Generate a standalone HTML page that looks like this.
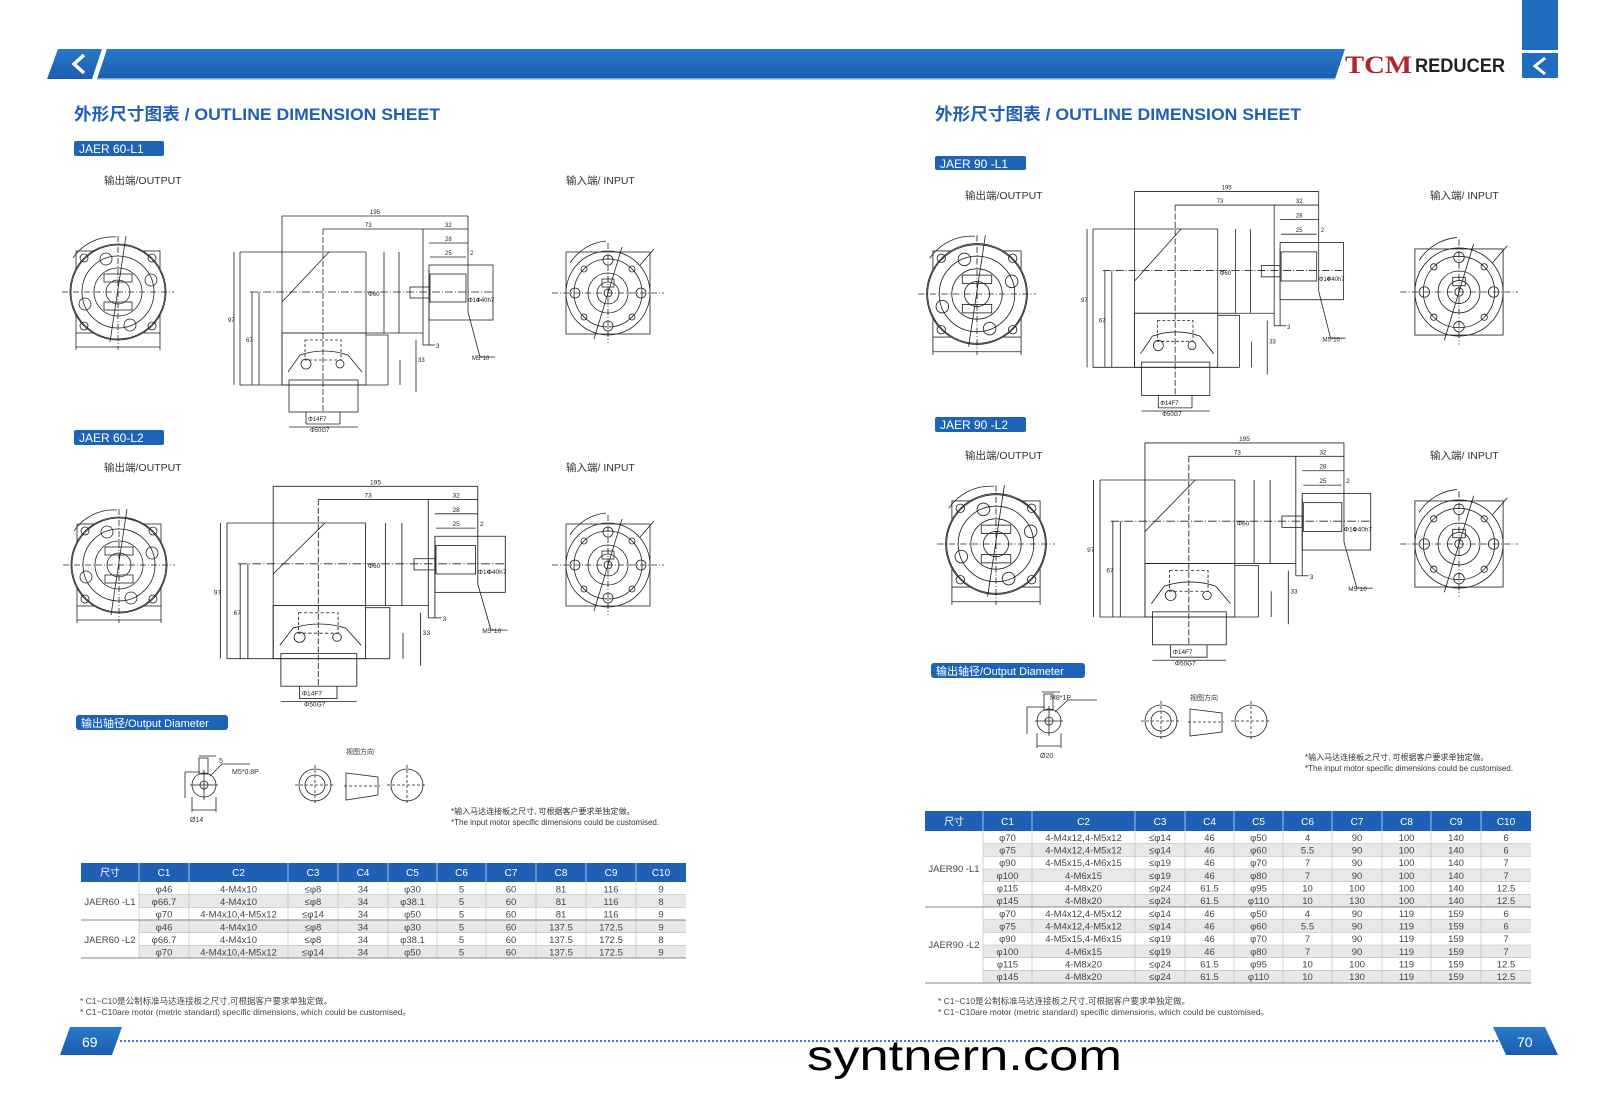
<!DOCTYPE html>
<html><head><meta charset="utf-8"><style>
html,body{margin:0;padding:0;background:#fff;}
svg{display:block;}
text{font-family:"Liberation Sans","Noto Sans CJK SC",sans-serif;}
</style></head><body>
<svg width="1611" height="1100" viewBox="0 0 1611 1100" xmlns="http://www.w3.org/2000/svg">
<defs>
<linearGradient id="bg" x1="0" y1="0" x2="0" y2="1"><stop offset="0" stop-color="#2a78c8"/><stop offset="1" stop-color="#1a5db0"/></linearGradient>
<g id="outv" fill="none" stroke="#222" stroke-width="0.8">
<rect x="-42" y="-41" width="84" height="82"/>
<circle r="48" fill="#fff"/>
<circle r="47"/><circle r="36"/><circle r="24"/><circle r="12"/>
<line x1="-56" y1="0" x2="56" y2="0" stroke-dasharray="6 2 1 2"/>
<line x1="0" y1="-56" x2="0" y2="58" stroke-dasharray="6 2 1 2"/>
<circle cx="-34" cy="-34" r="4"/><circle cx="34" cy="-34" r="4"/><circle cx="-34" cy="34" r="4"/><circle cx="34" cy="34" r="4"/>
<circle cx="-12" cy="-33" r="6"/><circle cx="33" cy="-12" r="6"/><circle cx="-33" cy="12" r="6"/><circle cx="12" cy="33" r="6"/>
<rect x="-14" y="-18" width="28" height="8"/><rect x="-14" y="10" width="28" height="8"/>
<path d="M-45 -34 A48 48 0 0 1 -2 -55"/>
<line x1="-42" y1="41" x2="-42" y2="58"/><line x1="42" y1="41" x2="42" y2="58"/>
<line x1="-42" y1="55" x2="42" y2="55"/>
<line x1="8" y1="-56" x2="-8" y2="50"/>
</g>
<g id="inv" fill="none" stroke="#222" stroke-width="0.8">
<rect x="-42" y="-41" width="84" height="82"/>
<circle r="42"/><circle r="34"/><circle r="20"/><circle r="11"/><circle r="4"/>
<line x1="-56" y1="0" x2="56" y2="0" stroke-dasharray="6 2 1 2"/>
<line x1="0" y1="-50" x2="0" y2="50" stroke-dasharray="6 2 1 2"/>
<circle cx="0" cy="-33" r="5"/><circle cx="0" cy="33" r="5"/><circle cx="-33" cy="0" r="5"/><circle cx="33" cy="0" r="5"/>
<circle cx="-24" cy="-24" r="3"/><circle cx="24" cy="-24" r="3"/><circle cx="-24" cy="24" r="3"/><circle cx="24" cy="24" r="3"/>
<rect x="-6" y="-14" width="12" height="8"/>
<path d="M-38 -30 A48 48 0 0 1 -2 -52"/>
<line x1="14" y1="-46" x2="-14" y2="46"/>
<line x1="32" y1="-28" x2="46" y2="-44"/>
</g>
<g id="side" fill="none" stroke="#222" stroke-width="0.8">
<path d="M0 0V133H148M0 0H126"/>
<path d="M19 40V133M42 -36V133"/>
<path d="M42 50L89 0"/>
<path d="M83 -23V160" stroke-dasharray="6 2"/>
<path d="M126 0V81M144 0V81M159 0V81M183 -23V93M189 18V93M42 81H183"/>
<rect x="42" y="81" width="84" height="52"/>
<path d="M126 83H148V133"/>
<rect x="49" y="128" width="69" height="32"/>
<rect x="65" y="88" width="36" height="20" stroke-dasharray="3 2"/>
<path d="M48 120L60 103Q84 95 108 103L122 120"/>
<circle cx="66" cy="112" r="5"/><circle cx="100" cy="112" r="4"/>
<rect x="189" y="13" width="64" height="55"/>
<rect x="190" y="22" width="36" height="28"/>
<rect x="170" y="35" width="19" height="11"/>
<path d="M10 40H253" stroke-dasharray="8 2 1 2"/>
<path d="M42 -36H228M83 -23H228M228 -36V60M189 -9H228M190 5H226M-6 0V133M12 40V133M160 108V133M176 88V140"/>
<path d="M228 60L240 105H255"/>
<path d="M183 93H195"/>
<path d="M66 160V172H100V160M49 175H118"/>
<g fill="#222" stroke="none" font-size="6">
<text x="130" y="-38">195</text><text x="125" y="-25">73</text><text x="205" y="-25">32</text><text x="205" y="-11">28</text><text x="205" y="3">25</text><text x="230" y="3">2</text>
<text x="232" y="108">M5*10</text><text x="196" y="96">3</text><text x="-12" y="70">97</text><text x="6" y="90">67</text><text x="178" y="110">33</text>
<text x="68" y="169">Φ14F7</text><text x="70" y="180">Φ50G7</text><text x="236" y="50">Φ40h7</text><text x="228" y="50">Φ14</text><text x="128" y="44">Φ60</text>
</g>
</g>
</defs>

<polygon points="47,79 58,49 102,49 92,79" fill="url(#bg)"/>
<polyline points="84,55 74,64 84,73" fill="none" stroke="#fff" stroke-width="3.5"/>
<polygon points="97,79 107,49 1345,49 1335,79" fill="url(#bg)"/>
<line x1="97" y1="79" x2="1335" y2="79" stroke="#9cc4ec" stroke-width="1.5"/>
<text x="1345" y="73" style="font-family:'Liberation Serif',serif" font-size="25" font-weight="bold" fill="#b0252a" textLength="67" lengthAdjust="spacingAndGlyphs">TCM</text>
<text x="1415" y="72" font-size="19" font-weight="bold" fill="#222" textLength="90" lengthAdjust="spacingAndGlyphs">REDUCER</text>
<rect x="1522" y="0" width="36" height="50" fill="#1f6cc0"/>
<rect x="1522" y="53" width="36" height="25" fill="#1f6cc0"/>
<polyline points="1545,58 1535,66 1545,74" fill="none" stroke="#fff" stroke-width="3"/>

<text x="74" y="120" font-size="17" font-weight="bold" fill="#1f5fb8" textLength="366" lengthAdjust="spacingAndGlyphs">外形尺寸图表 / OUTLINE DIMENSION SHEET</text>
<text x="935" y="120" font-size="17" font-weight="bold" fill="#1f5fb8" textLength="366" lengthAdjust="spacingAndGlyphs">外形尺寸图表 / OUTLINE DIMENSION SHEET</text>

<g fill="#1f63b8"><rect x="74" y="141" width="90" height="15" rx="2"/><rect x="74" y="430" width="90" height="15" rx="2"/><rect x="935" y="156" width="91" height="14" rx="2"/><rect x="935" y="417" width="91" height="15" rx="2"/>
<rect x="76" y="715" width="152" height="15" rx="3"/><rect x="931" y="663" width="154" height="15" rx="3"/></g>
<g fill="#fff" font-size="12"><text x="79" y="153">JAER  60-L1</text><text x="79" y="442">JAER  60-L2</text><text x="940" y="168">JAER  90 -L1</text><text x="940" y="429">JAER 90 -L2</text>
<text x="81" y="727" font-size="11">输出轴径/Output Diameter</text><text x="936" y="675" font-size="11">输出轴径/Output Diameter</text></g>

<g fill="#333" font-size="10.5">
<text x="104" y="184">输出端/OUTPUT</text><text x="566" y="184">输入端/ INPUT</text>
<text x="104" y="471">输出端/OUTPUT</text><text x="566" y="471">输入端/ INPUT</text>
<text x="965" y="199">输出端/OUTPUT</text><text x="1430" y="199">输入端/ INPUT</text>
<text x="965" y="459">输出端/OUTPUT</text><text x="1430" y="459">输入端/ INPUT</text>
</g>

<use href="#outv" transform="translate(118,292)"/>
<use href="#inv" transform="translate(608,293)"/>
<use href="#side" transform="translate(240,252)"/>
<use href="#outv" transform="translate(119,565)"/>
<use href="#inv" transform="translate(608,565)"/>
<use href="#side" transform="translate(227,523) scale(1.1,1.02)"/>
<use href="#outv" transform="translate(977,294) scale(1.05)"/>
<use href="#inv" transform="translate(1459,292) scale(1.05)"/>
<use href="#side" transform="translate(1093,229) scale(0.99,1.04)"/>
<use href="#outv" transform="translate(996,544) scale(1.05)"/>
<use href="#inv" transform="translate(1459,544) scale(1.05)"/>
<use href="#side" transform="translate(1100,480) scale(1.07,1.03)"/>

<g fill="none" stroke="#222" stroke-width="0.8">
<circle cx="204" cy="785" r="12"/><circle cx="204" cy="785" r="4"/><rect x="199" y="758" width="9" height="16"/>
<path d="M190 785H218M204 770V800M185 772V798M185 772H200M199 756H216M210 776L222 764H250M192 797V812M216 797V812M192 810H216"/>
<circle cx="315" cy="785" r="16"/><circle cx="315" cy="785" r="10"/><path d="M295 785H335M315 765V805" stroke-dasharray="3 2"/>
<path d="M346 773L378 777V795L346 800Z"/><path d="M344 786H380" stroke-dasharray="3 2"/>
<circle cx="407" cy="785" r="16"/><path d="M387 785H427M407 765V805" stroke-dasharray="3 2"/>
<circle cx="1049" cy="721" r="12"/><circle cx="1049" cy="721" r="4"/><rect x="1044" y="694" width="9" height="16"/>
<path d="M1035 721H1063M1049 706V736M1027 707V734M1027 707H1045M1042 692H1060M1055 712L1068 700H1097M1037 733V748M1061 733V748M1037 746H1061"/>
<circle cx="1161" cy="721" r="16"/><circle cx="1161" cy="721" r="10"/><path d="M1141 721H1181M1161 701V741" stroke-dasharray="3 2"/>
<path d="M1190 709L1222 713V732L1190 736Z"/><path d="M1188 722H1224" stroke-dasharray="3 2"/>
<circle cx="1251" cy="721" r="16"/><path d="M1231 721H1271M1251 701V741" stroke-dasharray="3 2"/>
</g>
<g fill="#333" font-size="7"><text x="219" y="763">5</text><text x="232" y="774">M5*0.8P</text><text x="190" y="822">Ø14</text>
<text x="346" y="754">视图方向</text><text x="1050" y="700">M8*1P</text><text x="1040" y="758">Ø20</text><text x="1190" y="700">视图方向</text>
<text x="451" y="814" font-size="8">*输入马达连接板之尺寸, 可根据客户要求单独定做。</text><text x="451" y="825" font-size="8">*The input motor specific dimensions could be customised.</text>
<text x="1305" y="760" font-size="8">*输入马达连接板之尺寸, 可根据客户要求单独定做。</text><text x="1305" y="771" font-size="8">*The input motor specific dimensions could be customised.</text></g>

<rect x="81" y="863" width="605" height="19" fill="#1f5fb5"/>
<g fill="#e8e8e8"><rect x="139" y="894.7" width="547" height="12.7"/><rect x="139" y="920" width="547" height="12.7"/><rect x="139" y="945.3" width="547" height="12.7"/></g>
<g stroke="#bbb" stroke-width="0.6"><path d="M139 894.7H686M139 907.3H686M139 920H686M139 932.7H686M139 945.3H686"/>
<path d="M139 882V958M189 882V958M288 882V958M338 882V958M388 882V958M437 882V958M486 882V958M536 882V958M586 882V958M636 882V958"/></g>
<path d="M81 920H686M81 958H686" stroke="#666" stroke-width="0.8"/>
<g stroke="#9cc0ea" stroke-width="1"><path d="M139 863V882M189 863V882M288 863V882M338 863V882M388 863V882M437 863V882M486 863V882M536 863V882M586 863V882M636 863V882"/></g>
<g fill="#fff" font-size="10" text-anchor="middle"><text x="110" y="876">尺寸</text><text x="164" y="876">C1</text><text x="238.5" y="876">C2</text><text x="313" y="876">C3</text><text x="363" y="876">C4</text><text x="412.5" y="876">C5</text><text x="461.5" y="876">C6</text><text x="511" y="876">C7</text><text x="561" y="876">C8</text><text x="611" y="876">C9</text><text x="661" y="876">C10</text></g>
<g fill="#444" font-size="9.5" text-anchor="middle">
<text x="110" y="905">JAER60 -L1</text><text x="110" y="943">JAER60 -L2</text>
<text x="164" y="892.3">φ46</text><text x="238.5" y="892.3">4-M4x10</text><text x="313" y="892.3">≤φ8</text><text x="363" y="892.3">34</text><text x="412.5" y="892.3">φ30</text><text x="461.5" y="892.3">5</text><text x="511" y="892.3">60</text><text x="561" y="892.3">81</text><text x="611" y="892.3">116</text><text x="661" y="892.3">9</text>
<text x="164" y="905">φ66.7</text><text x="238.5" y="905">4-M4x10</text><text x="313" y="905">≤φ8</text><text x="363" y="905">34</text><text x="412.5" y="905">φ38.1</text><text x="461.5" y="905">5</text><text x="511" y="905">60</text><text x="561" y="905">81</text><text x="611" y="905">116</text><text x="661" y="905">8</text>
<text x="164" y="917.7">φ70</text><text x="238.5" y="917.7">4-M4x10,4-M5x12</text><text x="313" y="917.7">≤φ14</text><text x="363" y="917.7">34</text><text x="412.5" y="917.7">φ50</text><text x="461.5" y="917.7">5</text><text x="511" y="917.7">60</text><text x="561" y="917.7">81</text><text x="611" y="917.7">116</text><text x="661" y="917.7">9</text>
<text x="164" y="930.3">φ46</text><text x="238.5" y="930.3">4-M4x10</text><text x="313" y="930.3">≤φ8</text><text x="363" y="930.3">34</text><text x="412.5" y="930.3">φ30</text><text x="461.5" y="930.3">5</text><text x="511" y="930.3">60</text><text x="561" y="930.3">137.5</text><text x="611" y="930.3">172.5</text><text x="661" y="930.3">9</text>
<text x="164" y="943">φ66.7</text><text x="238.5" y="943">4-M4x10</text><text x="313" y="943">≤φ8</text><text x="363" y="943">34</text><text x="412.5" y="943">φ38.1</text><text x="461.5" y="943">5</text><text x="511" y="943">60</text><text x="561" y="943">137.5</text><text x="611" y="943">172.5</text><text x="661" y="943">8</text>
<text x="164" y="955.7">φ70</text><text x="238.5" y="955.7">4-M4x10,4-M5x12</text><text x="313" y="955.7">≤φ14</text><text x="363" y="955.7">34</text><text x="412.5" y="955.7">φ50</text><text x="461.5" y="955.7">5</text><text x="511" y="955.7">60</text><text x="561" y="955.7">137.5</text><text x="611" y="955.7">172.5</text><text x="661" y="955.7">9</text>
</g>

<rect x="925" y="811" width="606" height="20" fill="#1f5fb5"/>
<g fill="#e8e8e8"><rect x="983" y="843.7" width="548" height="12.7"/><rect x="983" y="869" width="548" height="12.7"/><rect x="983" y="894.3" width="548" height="12.7"/><rect x="983" y="919.7" width="548" height="12.7"/><rect x="983" y="945" width="548" height="12.7"/><rect x="983" y="970.3" width="548" height="12.7"/></g>
<g stroke="#bbb" stroke-width="0.6"><path d="M983 843.7H1531M983 856.3H1531M983 869H1531M983 881.7H1531M983 894.3H1531M983 919.7H1531M983 932.3H1531M983 945H1531M983 957.7H1531M983 970.3H1531"/>
<path d="M983 831V983M1032 831V983M1135 831V983M1185 831V983M1234 831V983M1283 831V983M1332 831V983M1382 831V983M1431 831V983M1481 831V983"/></g>
<path d="M925 907H1531M925 983H1531" stroke="#666" stroke-width="0.8"/>
<g stroke="#9cc0ea" stroke-width="1"><path d="M983 811V831M1032 811V831M1135 811V831M1185 811V831M1234 811V831M1283 811V831M1332 811V831M1382 811V831M1431 811V831M1481 811V831"/></g>
<g fill="#fff" font-size="10" text-anchor="middle"><text x="954" y="825">尺寸</text><text x="1007.5" y="825">C1</text><text x="1083.5" y="825">C2</text><text x="1160" y="825">C3</text><text x="1209.5" y="825">C4</text><text x="1258.5" y="825">C5</text><text x="1307.5" y="825">C6</text><text x="1357" y="825">C7</text><text x="1406.5" y="825">C8</text><text x="1456" y="825">C9</text><text x="1506" y="825">C10</text></g>
<g fill="#444" font-size="9.5" text-anchor="middle">
<text x="954" y="872">JAER90 -L1</text><text x="954" y="948">JAER90 -L2</text>
<text x="1007.5" y="840.8">φ70</text><text x="1083.5" y="840.8">4-M4x12,4-M5x12</text><text x="1160" y="840.8">≤φ14</text><text x="1209.5" y="840.8">46</text><text x="1258.5" y="840.8">φ50</text><text x="1307.5" y="840.8">4</text><text x="1357" y="840.8">90</text><text x="1406.5" y="840.8">100</text><text x="1456" y="840.8">140</text><text x="1506" y="840.8">6</text>
<text x="1007.5" y="853.5">φ75</text><text x="1083.5" y="853.5">4-M4x12,4-M5x12</text><text x="1160" y="853.5">≤φ14</text><text x="1209.5" y="853.5">46</text><text x="1258.5" y="853.5">φ60</text><text x="1307.5" y="853.5">5.5</text><text x="1357" y="853.5">90</text><text x="1406.5" y="853.5">100</text><text x="1456" y="853.5">140</text><text x="1506" y="853.5">6</text>
<text x="1007.5" y="866.2">φ90</text><text x="1083.5" y="866.2">4-M5x15,4-M6x15</text><text x="1160" y="866.2">≤φ19</text><text x="1209.5" y="866.2">46</text><text x="1258.5" y="866.2">φ70</text><text x="1307.5" y="866.2">7</text><text x="1357" y="866.2">90</text><text x="1406.5" y="866.2">100</text><text x="1456" y="866.2">140</text><text x="1506" y="866.2">7</text>
<text x="1007.5" y="878.8">φ100</text><text x="1083.5" y="878.8">4-M6x15</text><text x="1160" y="878.8">≤φ19</text><text x="1209.5" y="878.8">46</text><text x="1258.5" y="878.8">φ80</text><text x="1307.5" y="878.8">7</text><text x="1357" y="878.8">90</text><text x="1406.5" y="878.8">100</text><text x="1456" y="878.8">140</text><text x="1506" y="878.8">7</text>
<text x="1007.5" y="891.5">φ115</text><text x="1083.5" y="891.5">4-M8x20</text><text x="1160" y="891.5">≤φ24</text><text x="1209.5" y="891.5">61.5</text><text x="1258.5" y="891.5">φ95</text><text x="1307.5" y="891.5">10</text><text x="1357" y="891.5">100</text><text x="1406.5" y="891.5">100</text><text x="1456" y="891.5">140</text><text x="1506" y="891.5">12.5</text>
<text x="1007.5" y="904.2">φ145</text><text x="1083.5" y="904.2">4-M8x20</text><text x="1160" y="904.2">≤φ24</text><text x="1209.5" y="904.2">61.5</text><text x="1258.5" y="904.2">φ110</text><text x="1307.5" y="904.2">10</text><text x="1357" y="904.2">130</text><text x="1406.5" y="904.2">100</text><text x="1456" y="904.2">140</text><text x="1506" y="904.2">12.5</text>
<text x="1007.5" y="916.8">φ70</text><text x="1083.5" y="916.8">4-M4x12,4-M5x12</text><text x="1160" y="916.8">≤φ14</text><text x="1209.5" y="916.8">46</text><text x="1258.5" y="916.8">φ50</text><text x="1307.5" y="916.8">4</text><text x="1357" y="916.8">90</text><text x="1406.5" y="916.8">119</text><text x="1456" y="916.8">159</text><text x="1506" y="916.8">6</text>
<text x="1007.5" y="929.5">φ75</text><text x="1083.5" y="929.5">4-M4x12,4-M5x12</text><text x="1160" y="929.5">≤φ14</text><text x="1209.5" y="929.5">46</text><text x="1258.5" y="929.5">φ60</text><text x="1307.5" y="929.5">5.5</text><text x="1357" y="929.5">90</text><text x="1406.5" y="929.5">119</text><text x="1456" y="929.5">159</text><text x="1506" y="929.5">6</text>
<text x="1007.5" y="942.2">φ90</text><text x="1083.5" y="942.2">4-M5x15,4-M6x15</text><text x="1160" y="942.2">≤φ19</text><text x="1209.5" y="942.2">46</text><text x="1258.5" y="942.2">φ70</text><text x="1307.5" y="942.2">7</text><text x="1357" y="942.2">90</text><text x="1406.5" y="942.2">119</text><text x="1456" y="942.2">159</text><text x="1506" y="942.2">7</text>
<text x="1007.5" y="954.8">φ100</text><text x="1083.5" y="954.8">4-M6x15</text><text x="1160" y="954.8">≤φ19</text><text x="1209.5" y="954.8">46</text><text x="1258.5" y="954.8">φ80</text><text x="1307.5" y="954.8">7</text><text x="1357" y="954.8">90</text><text x="1406.5" y="954.8">119</text><text x="1456" y="954.8">159</text><text x="1506" y="954.8">7</text>
<text x="1007.5" y="967.5">φ115</text><text x="1083.5" y="967.5">4-M8x20</text><text x="1160" y="967.5">≤φ24</text><text x="1209.5" y="967.5">61.5</text><text x="1258.5" y="967.5">φ95</text><text x="1307.5" y="967.5">10</text><text x="1357" y="967.5">100</text><text x="1406.5" y="967.5">119</text><text x="1456" y="967.5">159</text><text x="1506" y="967.5">12.5</text>
<text x="1007.5" y="980.2">φ145</text><text x="1083.5" y="980.2">4-M8x20</text><text x="1160" y="980.2">≤φ24</text><text x="1209.5" y="980.2">61.5</text><text x="1258.5" y="980.2">φ110</text><text x="1307.5" y="980.2">10</text><text x="1357" y="980.2">130</text><text x="1406.5" y="980.2">119</text><text x="1456" y="980.2">159</text><text x="1506" y="980.2">12.5</text>
</g>

<g fill="#444" font-size="8.5">
<text x="80" y="1004">* C1~C10是公制标准马达连接板之尺寸,可根据客户要求单独定做。</text>
<text x="80" y="1015">* C1~C10are motor (metric standard) specific dimensions, which could be customised。</text>
<text x="938" y="1004">* C1~C10是公制标准马达连接板之尺寸,可根据客户要求单独定做。</text>
<text x="938" y="1015">* C1~C10are motor (metric standard) specific dimensions, which could be customised。</text>
</g>

<line x1="120" y1="1041" x2="1505" y2="1041" stroke="#3a7bc8" stroke-width="2" stroke-dasharray="2 2"/>
<polygon points="60,1055 70,1027 122,1027 112,1055" fill="url(#bg)"/>
<text x="82" y="1047" fill="#fff" font-size="14">69</text>
<polygon points="1493,1027 1545,1027 1558,1055 1506,1055" fill="url(#bg)"/>
<text x="1517" y="1047" fill="#fff" font-size="14">70</text>
<text x="807" y="1070" font-size="43" fill="#000" textLength="315" lengthAdjust="spacingAndGlyphs">syntnern.com</text>
</svg>
</body></html>
